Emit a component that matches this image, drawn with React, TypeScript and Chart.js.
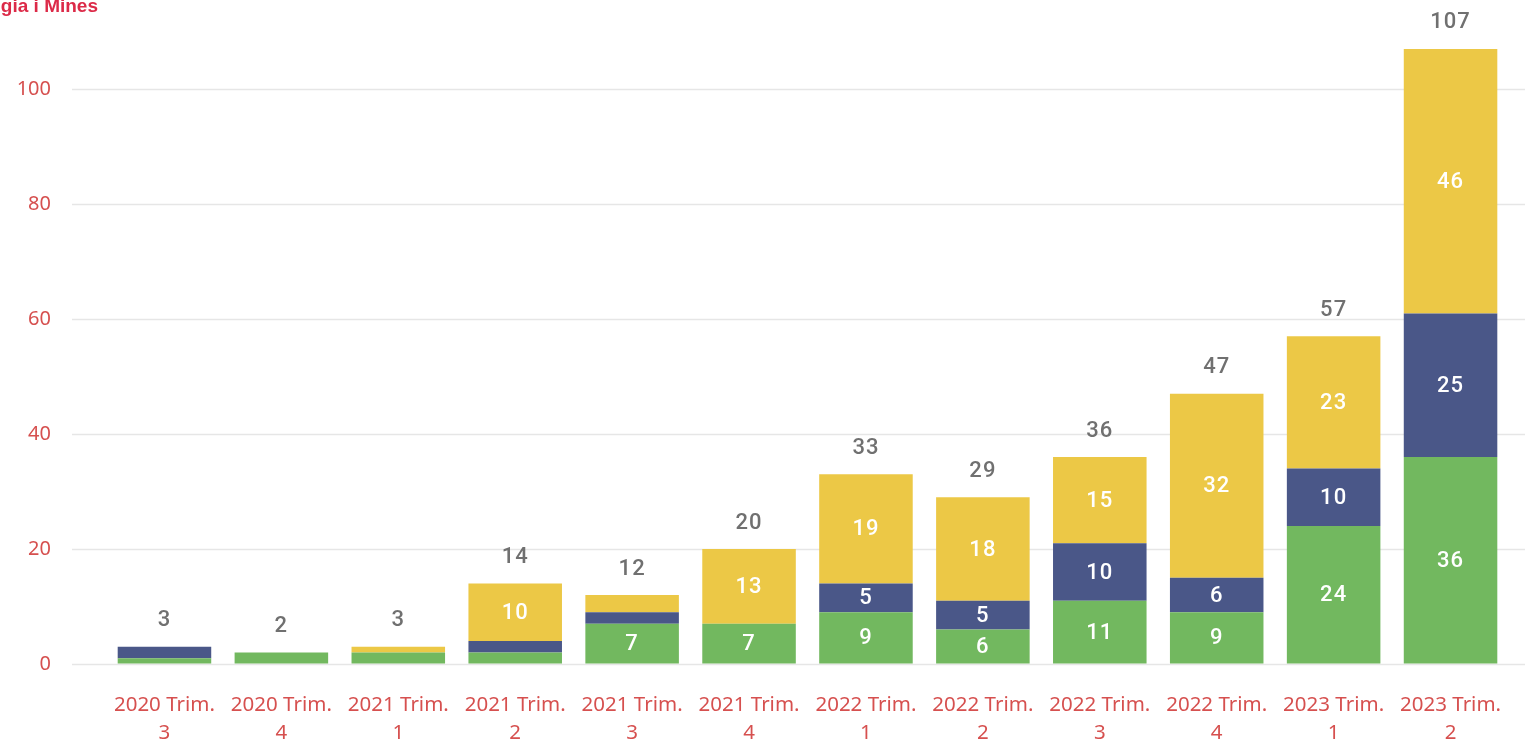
import React, { useEffect, useRef } from "react";
import { Chart, registerables } from "chart.js";

Chart.register(...registerables);

const categories: string[][] = [
  ["2020 Trim.", "3"],
  ["2020 Trim.", "4"],
  ["2021 Trim.", "1"],
  ["2021 Trim.", "2"],
  ["2021 Trim.", "3"],
  ["2021 Trim.", "4"],
  ["2022 Trim.", "1"],
  ["2022 Trim.", "2"],
  ["2022 Trim.", "3"],
  ["2022 Trim.", "4"],
  ["2023 Trim.", "1"],
  ["2023 Trim.", "2"],
];

const greenValues = [1, 2, 2, 2, 7, 7, 9, 6, 11, 9, 24, 36];
const blueValues = [2, 0, 0, 2, 2, 0, 5, 5, 10, 6, 10, 25];
const yellowValues = [0, 0, 1, 10, 3, 13, 19, 18, 15, 32, 23, 46];

const yTickValues = [0, 20, 40, 60, 80, 100];
const titleText = "gia i Mines";

const GREEN = "#72b85f";
const BLUE = "#4a5788";
const YELLOW = "#ecc846";
const RED = "#d6504f";

export default function App() {
  const canvasRef = useRef<HTMLCanvasElement | null>(null);

  useEffect(() => {
    const canvas = canvasRef.current;
    if (!canvas) return;

    const gridPlugin = {
      id: "customGrid",
      beforeDatasetsDraw(chart: any) {
        const { ctx, scales } = chart;
        const y = scales.y;
        ctx.save();
        ctx.strokeStyle = "#e6e6e6";
        ctx.lineWidth = 1.5;
        yTickValues.forEach((v) => {
          const py = Math.round(y.getPixelForValue(v)) + 0.5;
          ctx.beginPath();
          ctx.moveTo(72, py);
          ctx.lineTo(chart.width, py);
          ctx.stroke();
        });
        ctx.restore();
      },
    };

    const labelPlugin = {
      id: "valueLabels",
      afterDatasetsDraw(chart: any) {
        const { ctx } = chart;
        ctx.save();
        ctx.font = "500 22px Roboto";
        ctx.textAlign = "center";
        ctx.textBaseline = "middle";
        try {
          (ctx as any).letterSpacing = "1px";
        } catch (e) {}
        chart.data.datasets.forEach((ds: any, di: number) => {
          const meta = chart.getDatasetMeta(di);
          meta.data.forEach((bar: any, i: number) => {
            const v = ds.data[i];
            if (v >= 5) {
              ctx.fillStyle = "#ffffff";
              ctx.fillText(String(v), bar.x, (bar.y + bar.base) / 2 + 1);
            }
          });
        });
        const topMeta = chart.getDatasetMeta(2);
        const yScale = chart.scales.y;
        categories.forEach((_, i) => {
          const total = greenValues[i] + blueValues[i] + yellowValues[i];
          const x = topMeta.data[i].x;
          const py = yScale.getPixelForValue(total);
          ctx.fillStyle = "#707070";
          ctx.fillText(String(total), x, py - 26);
        });
        ctx.restore();
      },
    };

    const chart = new Chart(canvas, {
      type: "bar",
      data: {
        labels: categories,
        datasets: [
          { label: "A", data: greenValues, backgroundColor: GREEN, borderWidth: 0 },
          { label: "B", data: blueValues, backgroundColor: BLUE, borderWidth: 0 },
          { label: "C", data: yellowValues, backgroundColor: YELLOW, borderWidth: 0 },
        ],
      },
      options: {
        animation: false,
        responsive: false,
        maintainAspectRatio: false,
        layout: { padding: { top: 3, right: 16, left: 0, bottom: 0 } },
        plugins: {
          legend: { display: false },
          tooltip: { enabled: false },
          title: { display: false },
        },
        datasets: {
          bar: { categoryPercentage: 0.8, barPercentage: 1 },
        },
        scales: {
          x: {
            stacked: true,
            grid: { display: false },
            border: { display: false },
            ticks: {
              color: RED,
              font: { family: "'Noto Sans', 'Open Sans', sans-serif", size: 20.5, lineHeight: 1.366 },
              padding: 19,
              maxRotation: 0,
              autoSkip: false,
            },
            afterFit(scale: any) {
              scale.height = 76;
            },
          },
          y: {
            stacked: true,
            min: 0,
            max: 115,
            grid: {
              display: true,
              drawOnChartArea: false,
              drawTicks: true,
              tickLength: 52,
              color: "rgba(0,0,0,0)",
            },
            border: { display: false },
            ticks: {
              stepSize: 20,
              color: RED,
              font: { family: "'Noto Sans', 'Open Sans', sans-serif", size: 20 },
              padding: 3,
              callback: (v: any) => (yTickValues.includes(Number(v)) ? String(v) : null),
            },
            afterFit(scale: any) {
              scale.width = 106;
              scale.paddingTop = 0;
              scale.paddingBottom = 0;
            },
          },
        },
      },
      plugins: [gridPlugin, labelPlugin],
    } as any);

    return () => chart.destroy();
  }, []);

  return (
    <div
      style={{
        position: "fixed",
        left: 0,
        top: 0,
        width: 1525,
        height: 740,
        overflow: "hidden",
        background: "#ffffff",
      }}
    >
      <canvas ref={canvasRef} width={1525} height={740} style={{ display: "block" }} />
      <span
        style={{
          position: "absolute",
          right: 1427,
          top: -4,
          whiteSpace: "nowrap",
          fontFamily: "'Liberation Sans', Arial, sans-serif",
          fontWeight: 700,
          fontSize: 19,
          lineHeight: "19px",
          color: "#dc2a48",
        }}
      >
        {titleText}
      </span>
    </div>
  );
}
